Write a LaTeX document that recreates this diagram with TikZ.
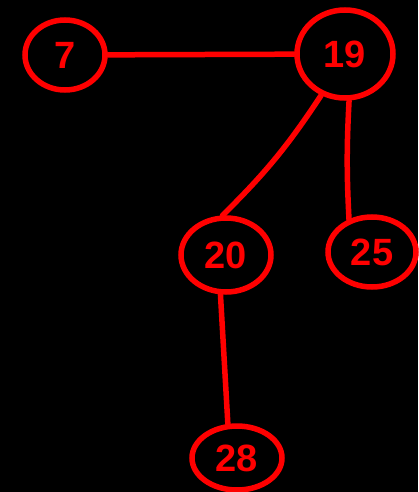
\documentclass[tikz,border=0pt]{standalone}
\usepackage{fontspec}
\setmainfont{Liberation Sans}
\usetikzlibrary{shapes.geometric}
\begin{document}
\begin{tikzpicture}[x=1pt,y=-1pt,
  nd/.style={draw=red, line width=5.5pt, ellipse, inner sep=0pt, text=red,
    font=\fontsize{38}{38}\selectfont\bfseries},
  ed/.style={draw=red, line width=5.5pt, line cap=round}]
\fill[black] (0,0) rectangle (418,492);
\useasboundingbox (0,0) rectangle (418,492);
\node[nd, minimum width=80, minimum height=70] (n7) at (65,55) {7};
\node[nd, minimum width=96, minimum height=88] (n19) at (345,54) {19};
\node[nd, minimum width=90, minimum height=74] (n20) at (226,255) {20};
\node[nd, minimum width=88, minimum height=70] (n25) at (372,252) {25};
\node[nd, minimum width=90, minimum height=64] (n28) at (237,458) {28};
\draw[ed] (n7) -- (n19);
\draw[ed] (n19.240) to[bend left=6] (n20.95);
\draw[ed] (n19.275) to[bend right=3] (n25.125);
\draw[ed] (n20.262) -- (n28.105);
\end{tikzpicture}
\end{document}
